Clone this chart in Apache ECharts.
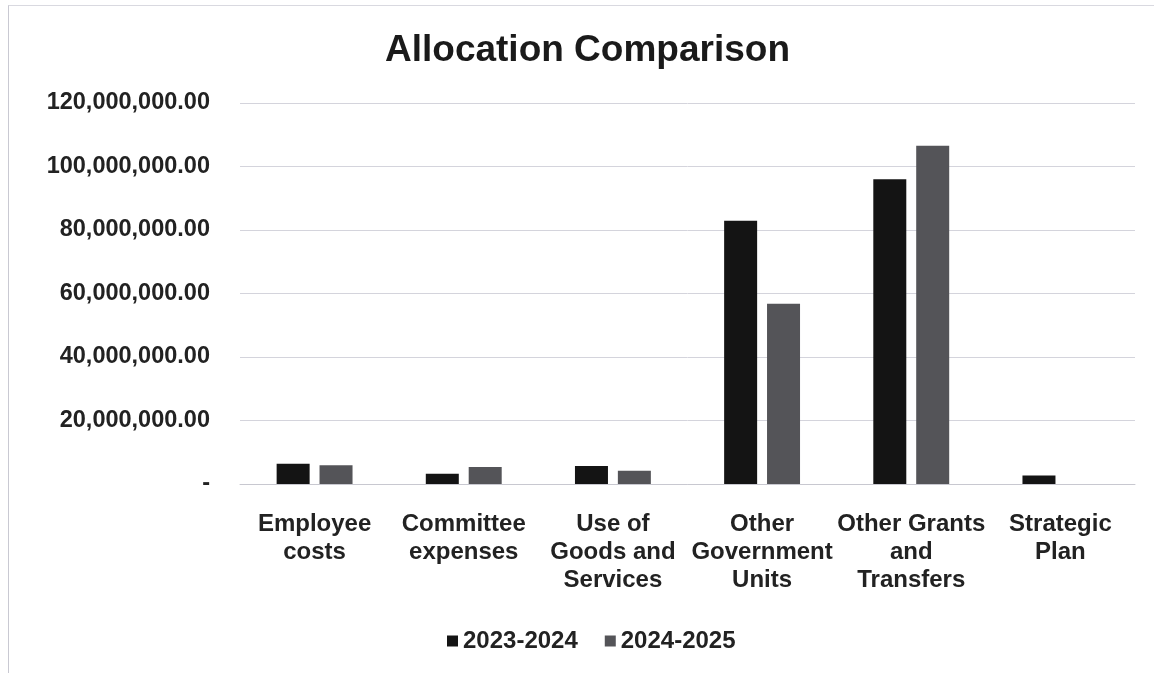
<!DOCTYPE html>
<html>
<head>
<meta charset="utf-8">
<script src="https://cdn.jsdelivr.net/npm/echarts@6/dist/echarts.min.js"></script>
<style>
html,body{margin:0;padding:0;background:#fff;}
#frame{position:absolute;left:8px;top:5px;width:1146px;height:668px;border-left:1px solid #c9c9d2;border-top:1px solid #d9d9e0;}
#chart{position:absolute;left:0;top:0;width:1154px;height:673px;}
</style>
</head>
<body>
<div id="frame"></div>
<div id="chart"></div>
<script>
const categories = ["Employee\ncosts", "Committee\nexpenses", "Use of\nGoods and\nServices", "Other\nGovernment\nUnits", "Other Grants\nand\nTransfers", "Strategic\nPlan"];
const series2023 = [6400000, 3200000, 5700000, 82900000, 96000000, 2700000];
const series2024 = [5900000, 5350000, 4200000, 56800000, 106500000, 0];
const seriesNames = ["2023-2024", "2024-2025"];
const yTicks = {min: 0, max: 120000000, interval: 20000000};

function fmt(v){
  if (v === 0) return "-";
  return v.toLocaleString("en-US", {minimumFractionDigits:2, maximumFractionDigits:2});
}

const chart = echarts.init(document.getElementById('chart'), null, {renderer:'canvas'});
const font = "'Liberation Sans', Arial, sans-serif";
chart.setOption({
  animation: false,
  backgroundColor: 'transparent',
  textStyle: {fontFamily: font},
  title: {
    text: "Allocation Comparison",
    left: 380, top: 27,
    textStyle: {fontSize: 37, fontWeight: 'bold', color: '#1a1a1a', fontFamily: font}
  },
  legend: {
    data: seriesNames,
    left: 447, top: 629,
    padding: 0,
    itemWidth: 11, itemHeight: 11, itemGap: 27,
    icon: 'rect',
    textStyle: {fontSize: 24, fontWeight: 'bold', color: '#222', fontFamily: font}
  },
  grid: {left: 240, right: 19, top: 103, bottom: 189, containLabel: false},
  xAxis: {
    type: 'category',
    data: categories,
    axisLine: {show: true, lineStyle: {color: '#c8c8d0', width: 1}},
    axisTick: {show: false},
    axisLabel: {fontSize: 24, fontWeight: 'bold', color: '#222', lineHeight: 28, margin: 26, interval: 0, fontFamily: font}
  },
  yAxis: {
    type: 'value',
    min: yTicks.min, max: yTicks.max, interval: yTicks.interval,
    axisLine: {show: false},
    axisTick: {show: false},
    splitLine: {lineStyle: {color: '#d4d4dc', width: 1}},
    axisLabel: {fontSize: 23.5, fontWeight: 'bold', color: '#222', margin: 30, formatter: fmt, fontFamily: font}
  },
  series: [
    {name: seriesNames[0], type: 'bar', data: series2023, barWidth: 33, barGap: '30%',
     itemStyle: {color: '#141414'}},
    {name: seriesNames[1], type: 'bar', data: series2024, barWidth: 33,
     itemStyle: {color: '#545458'}}
  ]
});
</script>
</body>
</html>
